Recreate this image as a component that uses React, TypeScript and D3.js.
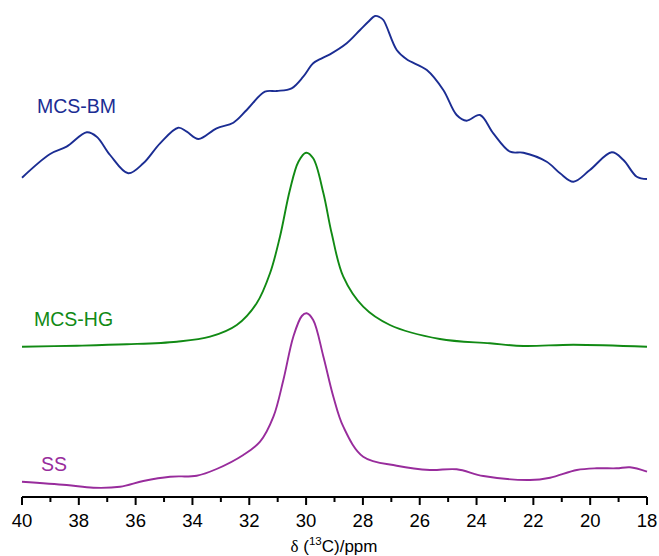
import React from "react";
import * as d3 from "d3";

const ticksMajor = [40, 38, 36, 34, 32, 30, 28, 26, 24, 22, 20, 18];
const ticksMinor = [39, 37, 35, 33, 31, 29, 27, 25, 23, 21, 19];

const bmPpm = [40.0, 39.01, 38.43, 37.72, 37.37, 36.9, 36.26, 35.73, 35.14, 34.5, 34.2, 33.79, 33.15, 32.56, 32.09, 31.45, 31.03, 30.51, 30.1, 29.75, 29.45, 29.16, 28.57, 28.1, 27.82, 27.57, 27.42, 27.28, 26.81, 26.46, 25.75, 25.17, 24.7, 24.35, 23.88, 23.41, 22.82, 22.35, 21.53, 21.06, 20.59, 20.01, 19.24, 18.83, 18.36, 18.0];
const bmInt = [4.3, 28, 35.3, 49.7, 45.3, 27, 8.7, 18.7, 38.7, 54.3, 50.3, 43, 53.7, 59.3, 72, 90.3, 91, 93.7, 105.3, 118.7, 123.7, 127.7, 138.7, 152, 160, 166, 165, 162, 132, 122.7, 112, 92, 67, 61.3, 67, 48.7, 30.3, 29.3, 20.3, 8.7, 0.3, 12, 29.7, 22, 5.3, 3];

const hgPpm = [40.0, 38.07, 36.31, 34.55, 33.38, 32.44, 31.74, 31.27, 30.92, 30.57, 30.27, 30.0, 29.75, 29.39, 29.1, 28.69, 27.99, 27.05, 25.29, 23.53, 22.35, 20.59, 18.0];
const hgInt = [0.3, 1.3, 2.7, 5.3, 10.3, 22, 43.7, 73.7, 110.3, 157, 185.3, 194.3, 188.7, 153.7, 113.7, 70.3, 40.3, 22, 8, 3.7, 1, 2.3, 0.3];

const ssPpm = [40.0, 38.43, 37.49, 36.55, 35.73, 34.79, 33.85, 33.15, 32.21, 31.62, 31.15, 30.8, 30.45, 30.15, 29.98, 29.75, 29.39, 29.04, 28.69, 27.99, 26.81, 25.64, 24.7, 23.76, 22.12, 21.41, 20.47, 19.77, 19.07, 18.6, 18.0];
const ssInt = [5.3, 2, -0.7, 0.3, 6, 10.3, 11.3, 18, 32, 45.3, 70.3, 107, 150.3, 171, 173.7, 167, 130.3, 90.3, 60.3, 30.3, 21.3, 17, 17.7, 11, 7, 9.3, 17, 18.7, 18.7, 19.7, 15.3];

const seriesNames = ["MCS-BM", "MCS-HG", "SS"];
const seriesOffsets = [315, 150, 10];
const seriesColors = ["#1b2d93", "#118a14", "#982c9c"];

export default function App() {
  const W = 659, H = 556;
  const x = d3.scaleLinear().domain([40, 18]).range([22, 647]);
  const y = d3.scaleLinear().domain([0, 480]).range([497, 17]);

  const series = [
    { ppm: bmPpm, val: bmInt },
    { ppm: hgPpm, val: hgInt },
    { ppm: ssPpm, val: ssInt },
  ];
  const labelPos = [
    { x: 37, y: 113 },
    { x: 34, y: 326 },
    { x: 41, y: 471 },
  ];

  const paths = series.map((s, i) => {
    const pts: [number, number][] = s.ppm.map((p, j) => [p, s.val[j] + seriesOffsets[i]]);
    const line = d3
      .line<[number, number]>()
      .x((d) => x(d[0]))
      .y((d) => y(d[1]))
      .curve(d3.curveCatmullRom.alpha(0.5));
    return line(pts) || "";
  });

  const axisY = y(0);

  return (
    <svg
      width={W}
      height={H}
      style={{ position: "absolute", left: 0, top: 0, background: "#fff" }}
      fontFamily="'Liberation Sans', Arial, sans-serif"
    >
      <rect width={W} height={H} fill="#fff" />
      {paths.map((d, i) => (
        <path key={i} d={d} fill="none" stroke={seriesColors[i]} strokeWidth={1.9} strokeLinejoin="round" />
      ))}
      {seriesNames.map((n, i) => (
        <text key={n} x={labelPos[i].x} y={labelPos[i].y} fill={seriesColors[i]} fontSize={19.5}>
          {n}
        </text>
      ))}
      <line x1={x(40)} x2={x(18)} y1={axisY} y2={axisY} stroke="#000" strokeWidth={2} />
      {ticksMajor.map((t) => (
        <g key={t}>
          <line x1={x(t)} x2={x(t)} y1={axisY} y2={axisY + 8} stroke="#000" strokeWidth={2} />
          <text x={x(t)} y={526.5} textAnchor="middle" fontSize={18.5} fill="#000">
            {t}
          </text>
        </g>
      ))}
      {ticksMinor.map((t) => (
        <line key={t} x1={x(t)} x2={x(t)} y1={axisY} y2={axisY + 5} stroke="#000" strokeWidth={2} />
      ))}
      <text x={334} y={552} textAnchor="middle" fontSize={17} fill="#000">
        <tspan fontFamily="'Liberation Serif', serif">δ</tspan>
        <tspan> (</tspan>
        <tspan fontSize={11.5} dy={-7}>13</tspan>
        <tspan dy={7}>C)/ppm</tspan>
      </text>
    </svg>
  );
}
